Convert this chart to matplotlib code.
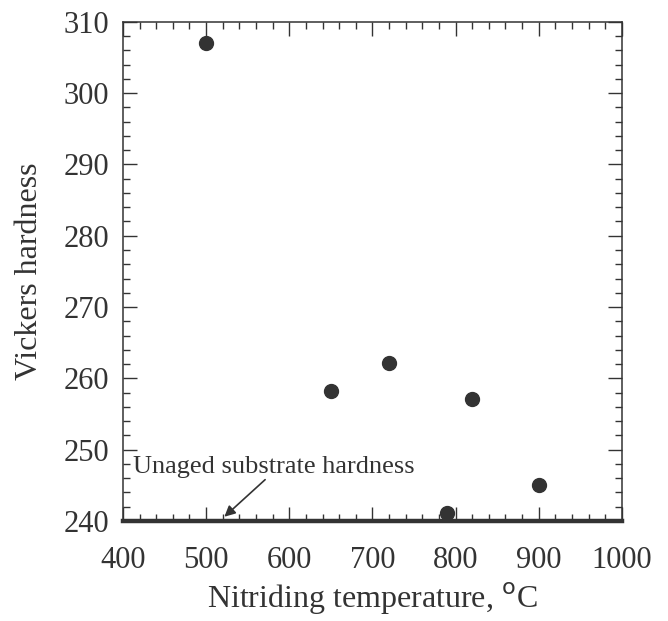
import numpy as np
import matplotlib
matplotlib.use('Agg')
import matplotlib.pyplot as plt
from matplotlib.ticker import MultipleLocator

plt.rcParams['font.family'] = ['Liberation Serif', 'DejaVu Serif']

# Nitriding temperature (°C) vs Vickers hardness
temperature = [500, 650, 720, 790, 820, 900]
hardness = [307.0, 258.2, 262.2, 241.1, 257.1, 245.1]
substrate_hardness = 240

INK = '#333333'

fig = plt.figure(figsize=(6.68, 6.21), dpi=100)
ax = fig.add_axes([0.184, 0.161, 0.747, 0.804])

ax.plot(temperature, hardness, 'o', color=INK, ms=10, mec=INK, zorder=3,
        clip_on=False)

# reference line for unaged substrate
ax.axhline(substrate_hardness, color=INK, lw=3.2, zorder=2, clip_on=False)
ax.text(412, 247.6, 'Unaged substrate hardness', fontsize=19, color=INK,
        va='center', ha='left')
# arrow tail starts under the text, pointing down at the line
ax.annotate('', xy=(522, 240.6), xytext=(571, 245.8),
            arrowprops=dict(arrowstyle='-|>', color=INK, lw=1.2,
                            mutation_scale=16, shrinkA=0, shrinkB=0))

ax.set_xlim(400, 1000)
ax.set_ylim(240, 310)
ax.xaxis.set_major_locator(MultipleLocator(100))
ax.xaxis.set_minor_locator(MultipleLocator(20))
ax.yaxis.set_major_locator(MultipleLocator(10))
ax.yaxis.set_minor_locator(MultipleLocator(2))
ax.tick_params(which='both', direction='in', top=True, right=True,
               colors=INK, labelsize=22, width=1)
ax.tick_params(which='major', length=10, pad=10)
ax.tick_params(axis='x', which='major', pad=18)
ax.tick_params(which='minor', length=5)
for s in ax.spines.values():
    s.set_color(INK)
    s.set_linewidth(1.1)

ax.set_xlabel('Nitriding temperature, $^{\\mathrm{o}}$C', fontsize=23,
              color=INK, labelpad=4)
ax.set_ylabel('Vickers hardness', fontsize=23, color=INK, labelpad=14)

fig.savefig('out.png', dpi=100)
